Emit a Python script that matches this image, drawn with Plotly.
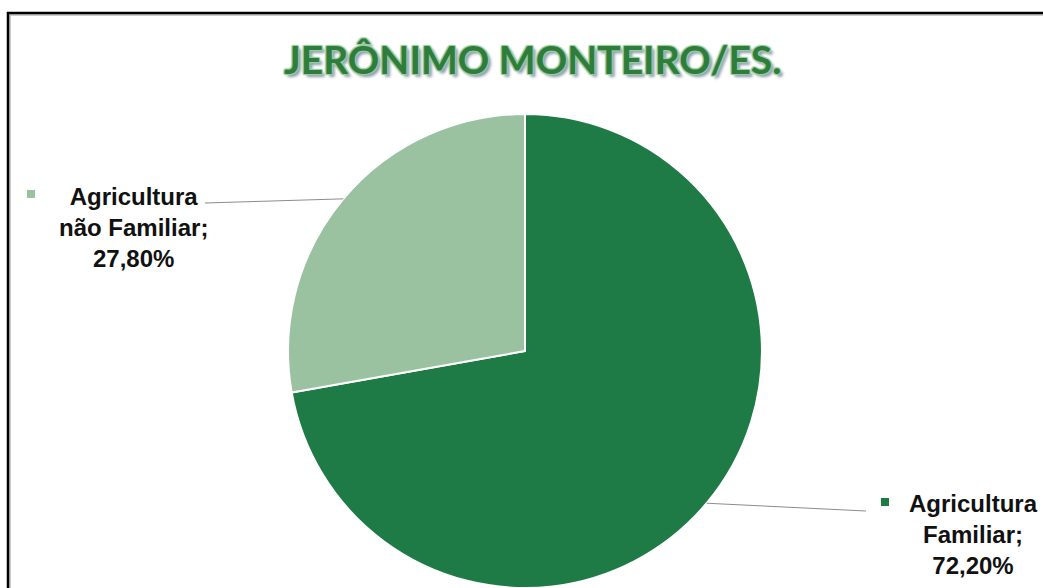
import math
import plotly.graph_objects as go

# ---- data ----
categories = ["Agricultura Familiar", "Agricultura não Familiar"]
values = [72.2, 27.8]
value_labels = ["72,20%", "27,80%"]
label_lines = [["Agricultura", "Familiar;"], ["Agricultura", "não Familiar;"]]
colors = ["#1E7B45", "#9AC2A0"]
title_text = "JERÔNIMO MONTEIRO/ES."

W, H = 1043, 588


def px(x):
    return x / W


def py(y):
    return 1 - y / H


# pie geometry (pixels)
cx = 525
dom_y = [0.0, 0.806]
r = (dom_y[1] - dom_y[0]) * H / 2
cy = H - (dom_y[0] * H + r)
dom_x = [px(cx - 400), px(cx + 400)]

fig = go.Figure()
fig.add_trace(go.Pie(
    labels=categories,
    values=values,
    sort=False,
    direction="clockwise",
    rotation=0,
    textinfo="none",
    hoverinfo="label+percent",
    marker=dict(colors=colors, line=dict(color="white", width=2)),
    domain=dict(x=dom_x, y=dom_y),
    showlegend=False,
))

# slice mid-points on the edge, computed from the values
total = sum(values)
edges = []
cum = 0
for v in values:
    mid = (cum + v / 2) / total
    cum += v
    a = 2 * math.pi * mid
    edges.append((cx + r * math.sin(a), cy - r * math.cos(a)))

# label layout (pixels): text centre x, top y, leader-line outer end, key square position
label_layout = [
    dict(tx=973, ty=488, lx=866, ly=511, kx=885, ky=502),
    dict(tx=133, ty=181, lx=205, ly=203, kx=31, ky=194),
]

shapes = []
annotations = []
for i in range(len(values)):
    L = label_layout[i]
    ex, ey = edges[i]
    shapes.append(dict(type="line", xref="paper", yref="paper",
                       x0=px(ex), y0=py(ey), x1=px(L["lx"]), y1=py(L["ly"]),
                       line=dict(color="#8C8C8C", width=1)))
    text = "<br>".join(label_lines[i] + [value_labels[i]])
    annotations.append(dict(
        x=px(L["tx"]), y=py(L["ty"]), xref="paper", yref="paper",
        xanchor="center", yanchor="top", showarrow=False, align="center",
        text="<b>" + text + "</b>",
        font=dict(family="Liberation Sans, Arial", size=24, color="#111111"),
    ))
    shapes.append(dict(type="rect", xref="paper", yref="paper",
                       x0=px(L["kx"] - 4), x1=px(L["kx"] + 4),
                       y0=py(L["ky"] - 4), y1=py(L["ky"] + 4),
                       fillcolor=colors[i], line=dict(width=0)))

# title
annotations.append(dict(
    x=px(532), y=py(59), xref="paper", yref="paper",
    xanchor="center", yanchor="middle", showarrow=False,
    text="<b>" + title_text + "</b>",
    font=dict(family="Lato, Open Sans, sans-serif", size=39, color="#2E7D3C",
              shadow="1px 1px 1px #9CCB9C, -1px -1px 1px #9CCB9C, 1px -1px 1px #9CCB9C, -1px 1px 1px #9CCB9C, 3px 3px 3px #8A9AAE"),
))

# chart border (extends past the cropped right / bottom edge)
shapes.append(dict(type="rect", xref="paper", yref="paper",
                   x0=px(10), y0=py(15), x1=1.1, y1=-0.1,
                   line=dict(color="#BBBBBB", width=1.5), layer="below"))
shapes.append(dict(type="rect", xref="paper", yref="paper",
                   x0=px(8), y0=py(13), x1=1.1, y1=-0.1,
                   line=dict(color="black", width=2.5), layer="above"))

fig.update_layout(
    width=W, height=H,
    margin=dict(l=0, r=0, t=0, b=0),
    paper_bgcolor="white",
    plot_bgcolor="white",
    shapes=shapes,
    annotations=annotations,
    showlegend=False,
)

fig.write_html("out.html")
